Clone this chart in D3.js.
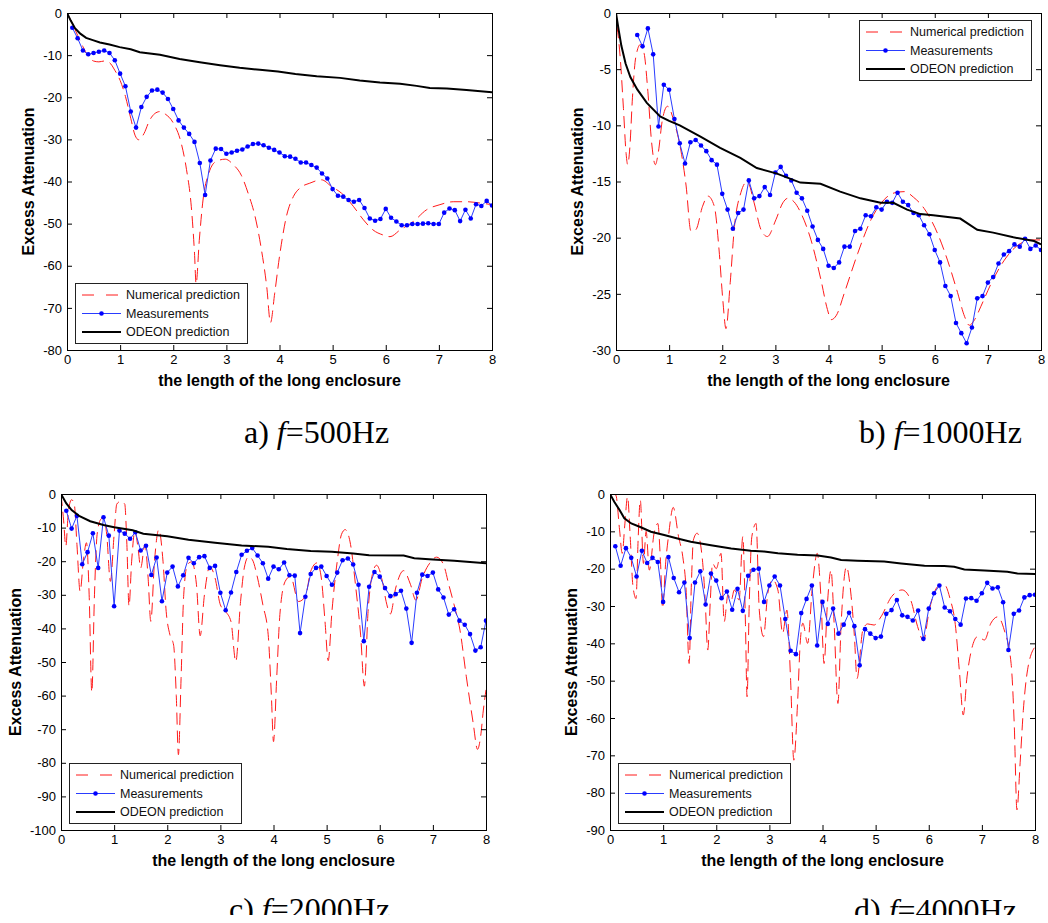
<!DOCTYPE html>
<html>
<head>
<meta charset="utf-8">
<script src="https://cdn.jsdelivr.net/npm/d3@7"></script>
<style>
body { margin: 0; background: #fff; }
svg { display: block; }
text { font-family: "Liberation Sans", Arial, sans-serif; }
</style>
</head>
<body>
<div id="chart"></div>
<script>
//positions along the enclosure where the measurements were taken
var measX = [0.1,0.2,0.3,0.4,0.5,0.6,0.7,0.8,0.9,1.0,
    1.1,1.2,1.3,1.4,1.5,1.6,1.7,1.8,1.9,2.0,
    2.1,2.2,2.3,2.4,2.5,2.6,2.7,2.8,2.9,3.0,
    3.1,3.2,3.3,3.4,3.5,3.6,3.7,3.8,3.9,4.0,
    4.1,4.2,4.3,4.4,4.5,4.6,4.7,4.8,4.9,5.0,
    5.1,5.2,5.3,5.4,5.5,5.6,5.7,5.8,5.9,6.0,
    6.1,6.2,6.3,6.4,6.5,6.6,6.7,6.8,6.9,7.0,
    7.1,7.2,7.3,7.4,7.5,7.6,7.7,7.8,7.9,8.0];

var measA = [-3.5,-6.0,-8.9,-9.8,-9.5,-9.2,-8.9,-9.5,-11.2,-14.4,
    -17.4,-23.4,-27.2,-22.3,-19.9,-18.4,-18.2,-18.9,-20.4,-22.8,
    -25.5,-27.2,-28.7,-30.6,-35.6,-43.2,-35.0,-32.2,-32.3,-33.4,
    -33.1,-32.7,-32.4,-31.7,-31.1,-31.0,-31.4,-32.0,-32.5,-33.1,
    -34.0,-34.1,-34.6,-35.5,-35.5,-36.1,-36.7,-38.1,-39.3,-41.8,
    -43.4,-43.6,-44.4,-44.8,-44.4,-46.3,-48.8,-49.3,-48.9,-46.5,
    -48.6,-49.5,-50.4,-50.4,-50.1,-50.1,-50.0,-49.9,-50.1,-50.1,
    -47.4,-46.4,-46.8,-49.4,-46.7,-48.8,-45.4,-45.8,-44.6,-45.7];

var measB = [null,null,null,-1.96,-2.97,-1.37,-3.68,-10.1,-6.39,-6.83,
    -9.44,-11.6,-13.4,-11.5,-11.3,-11.8,-12.3,-13.1,-13.5,-16.1,
    -17.5,-19.2,-17.8,-17.5,-14.9,-16.5,-16.3,-15.5,-16.2,-14.2,
    -13.7,-14.5,-14.9,-16.0,-16.5,-17.6,-19.0,-20.2,-21.0,-22.5,
    -22.7,-22.2,-20.8,-20.8,-19.4,-19.2,-18.0,-18.1,-17.3,-17.5,
    -16.8,-16.9,-16.0,-16.8,-17.1,-17.8,-18.0,-18.9,-19.7,-21.1,
    -22.2,-24.3,-25.2,-27.6,-28.5,-29.4,-28.0,-25.4,-25.2,-24.0,
    -23.5,-22.3,-21.5,-21.2,-20.6,-20.8,-20.1,-21.0,-20.7,-21.1];

var measC = [-5.0,-10.3,-6.5,-20.9,-17.3,-11.7,-22.0,-6.9,-12.4,-33.4,
    -10.9,-11.8,-13.3,-11.4,-16.8,-15.4,-24.1,-18.9,-31.9,-23.4,
    -21.6,-27.5,-24.2,-19.0,-20.6,-18.8,-18.5,-22.0,-21.4,-29.4,
    -34.6,-29.3,-23.2,-18.1,-16.9,-16.1,-18.3,-20.6,-25.2,-21.6,
    -22.4,-20.4,-24.2,-24.3,-41.4,-30.6,-23.8,-22.0,-21.6,-24.4,
    -27.0,-23.4,-19.7,-19.2,-21.0,-27.0,-43.8,-27.6,-23.2,-24.6,
    -28.0,-30.4,-29.8,-28.8,-34.1,-44.3,-29.4,-24.0,-24.4,-23.4,
    -28.4,-30.8,-35.9,-34.3,-37.7,-38.9,-41.7,-46.6,-45.6,-37.7];

var measD = [-14.0,-19.2,-14.5,-17.1,-22.1,-15.2,-18.5,-17.1,-18.2,-28.9,
    -16.9,-22.5,-26.3,-23.7,-38.6,-23.7,-20.7,-29.6,-21.3,-23.2,
    -27.9,-26.1,-31.0,-25.4,-31.3,-21.9,-20.3,-20.0,-28.9,-24.5,
    -22.1,-24.5,-33.5,-42.0,-42.9,-31.9,-28.1,-24.5,-40.6,-28.9,
    -34.8,-30.7,-37.4,-35.0,-31.8,-35.4,-45.9,-36.2,-37.4,-38.6,
    -38.2,-32.1,-31.1,-28.4,-32.5,-32.9,-33.9,-31.2,-38.8,-30.7,
    -26.6,-24.5,-30.4,-31.4,-33.5,-35.0,-28.0,-27.9,-28.6,-26.6,
    -23.8,-25.3,-25.0,-29.0,-41.8,-32.1,-31.2,-27.7,-27.1,-27.0];

//numerical prediction, [position, attenuation]
var numA = [[0,0],[0.1,-2.5],[0.2,-5.3],[0.3,-8.0],[0.4,-10.3],[0.5,-11.4],[0.6,-11.6],[0.7,-11.4],[0.8,-11.8],[0.9,-13.6],
    [1.0,-16.0],[1.1,-19.8],[1.2,-25.0],[1.28,-29.0],[1.35,-30.1],[1.45,-28.6],[1.55,-25.6],[1.65,-23.9],[1.75,-23.4],[1.85,-24.0],
    [2.0,-26.1],[2.15,-30.9],[2.25,-37.2],[2.34,-46.0],[2.4,-57.0],[2.43,-64.3],[2.49,-54.0],[2.56,-44.4],[2.67,-38.0],[2.81,-35.2],
    [2.98,-34.7],[3.13,-36.0],[3.28,-38.5],[3.41,-42.8],[3.54,-48.3],[3.66,-56.2],[3.76,-65.0],[3.83,-73.5],[3.91,-66.5],[4.0,-57.8],
    [4.13,-48.3],[4.26,-43.6],[4.38,-41.6],[4.57,-40.4],[4.79,-39.6],[4.98,-41.2],[5.17,-42.8],[5.39,-45.9],[5.58,-49.1],[5.76,-51.5],
    [5.95,-52.7],[6.08,-53.1],[6.27,-51.5],[6.52,-49.5],[6.77,-46.7],[7.02,-45.5],[7.27,-44.8],[7.52,-44.8],[7.77,-45.1],[8.0,-45.5]];

var numB = [[0.02,-1.2],[0.08,-4.0],[0.14,-8.5],[0.19,-12.5],[0.22,-13.5],[0.26,-12.0],[0.31,-7.5],[0.37,-4.0],[0.46,-2.8],[0.53,-3.6],
    [0.6,-7.0],[0.67,-11.5],[0.74,-13.5],[0.8,-12.3],[0.87,-9.6],[0.97,-8.3],[1.1,-9.8],[1.22,-12.2],[1.32,-15.4],[1.41,-19.4],
    [1.5,-19.3],[1.63,-17.2],[1.73,-16.3],[1.85,-17.2],[1.94,-21.1],[2.01,-25.5],[2.07,-28.1],[2.15,-24.0],[2.23,-19.0],[2.35,-16.0],
    [2.47,-15.0],[2.6,-16.9],[2.73,-19.3],[2.85,-19.9],[3.01,-18.4],[3.14,-16.9],[3.23,-16.5],[3.35,-16.8],[3.48,-17.8],[3.67,-20.2],
    [3.86,-23.8],[3.98,-26.4],[4.05,-27.3],[4.15,-26.9],[4.3,-24.9],[4.55,-21.4],[4.8,-18.4],[5.05,-16.6],[5.25,-16.0],[5.43,-15.9],
    [5.6,-16.4],[5.8,-17.4],[6.05,-19.6],[6.24,-22.0],[6.43,-24.9],[6.56,-27.0],[6.65,-27.8],[6.75,-27.3],[6.87,-26.1],[7.06,-24.1],
    [7.31,-22.0],[7.62,-20.5],[7.85,-20.2],[8.0,-20.2]];

var numC = [[0,0],[0.05,-8],[0.09,-15.6],[0.14,-5],[0.2,-1.7],[0.25,-3],[0.3,-15],[0.36,-29],[0.42,-20],[0.48,-14.5],
    [0.53,-30],[0.58,-59],[0.63,-30],[0.68,-12],[0.75,-7.5],[0.8,-7],[0.86,-12],[0.93,-26],[1.0,-12],[1.05,-3],
    [1.12,-2.2],[1.2,-3],[1.24,-15],[1.28,-33.4],[1.33,-20],[1.39,-11.1],[1.45,-16],[1.5,-22],[1.58,-15],[1.64,-25],
    [1.69,-37.9],[1.76,-20],[1.84,-10.6],[1.92,-20],[1.98,-35],[2.05,-41.9],[2.12,-45],[2.17,-60],[2.21,-77.6],[2.26,-55],
    [2.31,-30],[2.38,-21],[2.46,-20.2],[2.55,-27],[2.62,-42.2],[2.7,-30],[2.8,-21.6],[2.9,-25],[3.0,-33],[3.1,-35],
    [3.2,-38],[3.29,-49.9],[3.38,-32],[3.45,-22],[3.53,-18.7],[3.6,-19.5],[3.7,-25],[3.8,-33],[3.9,-41.9],[3.96,-60],
    [4.0,-73.7],[4.06,-54.8],[4.12,-35.9],[4.22,-26],[4.32,-24.5],[4.47,-32],[4.6,-30.5],[4.7,-23],[4.82,-20.5],[4.9,-25],
    [4.97,-38],[5.03,-49.6],[5.1,-35],[5.2,-20],[5.28,-12],[5.35,-10.6],[5.45,-15],[5.55,-28],[5.64,-42],[5.71,-57.2],
    [5.78,-35],[5.86,-24],[5.94,-21.2],[6.05,-26],[6.12,-32],[6.2,-35.7],[6.3,-28],[6.45,-22.8],[6.58,-27],[6.68,-31.6],
    [6.8,-25],[6.94,-20.6],[7.07,-18.8],[7.2,-21],[7.3,-27],[7.4,-33],[7.51,-40.5],[7.63,-54.4],[7.76,-68.3],[7.84,-76],
    [7.9,-72],[7.95,-64.3],[8.0,-58.3]];

var numD = [[0,0],[0.05,0],[0.11,-0.3],[0.18,-9.6],[0.23,-15.9],[0.28,-8],[0.33,-0.7],[0.38,-11.4],[0.43,-24.4],[0.49,-28],
    [0.53,-12],[0.57,-1.6],[0.63,-18.6],[0.68,-10],[0.74,-20.4],[0.83,-10.5],[0.9,-7.9],[0.95,-18],[0.99,-30.6],[1.05,-18],
    [1.1,-11.4],[1.19,-3.6],[1.29,-11.4],[1.37,-16.8],[1.43,-25],[1.49,-45.4],[1.53,-25],[1.57,-12.3],[1.64,-10.5],[1.74,-17.7],
    [1.79,-28],[1.84,-41.8],[1.89,-28],[1.93,-18.6],[2.0,-20],[2.09,-15.9],[2.15,-34.2],[2.22,-27],[2.28,-28.6],[2.34,-25.7],
    [2.43,-28.4],[2.5,-11.4],[2.55,-35],[2.58,-54.3],[2.62,-30],[2.67,-11.4],[2.75,-7.9],[2.81,-31.1],[2.89,-38.2],[2.97,-26.6],
    [3.06,-23.0],[3.16,-25.7],[3.25,-37.3],[3.33,-31.1],[3.4,-50],[3.46,-71.3],[3.53,-56.1],[3.58,-40],[3.63,-34.6],[3.72,-40],
    [3.81,-24.8],[3.9,-15.9],[3.97,-27.5],[4.03,-45.4],[4.09,-30],[4.16,-20.4],[4.22,-35],[4.29,-56.1],[4.35,-35],[4.45,-19.5],
    [4.54,-27.5],[4.6,-38],[4.65,-49.4],[4.76,-36.4],[4.85,-34.8],[4.97,-35.1],[5.1,-32.9],[5.3,-27.5],[5.5,-25.7],[5.66,-28.4],
    [5.79,-35.5],[5.9,-39.3],[6.01,-31.1],[6.17,-24.8],[6.29,-24.2],[6.4,-28],[6.5,-35],[6.58,-48],[6.65,-59.2],[6.72,-49],
    [6.8,-42],[6.92,-38.2],[7.05,-39.1],[7.17,-34.6],[7.3,-32.9],[7.42,-36.4],[7.55,-45.4],[7.61,-62],[7.66,-84.6],[7.72,-72],
    [7.78,-58],[7.86,-47.1],[8.0,-40.9]];

//ODEON prediction, [position, attenuation]
var odeonA = [[0,0],[0.07,-1.8],[0.15,-3.6],[0.25,-4.9],[0.36,-5.9],[0.5,-6.5],[0.62,-7.0],[0.8,-7.5],[0.99,-8.1],[1.2,-8.6],
    [1.37,-9.3],[1.75,-9.9],[2.12,-10.9],[2.5,-11.7],[2.88,-12.4],[3.25,-13.0],[3.63,-13.5],[3.97,-13.9],[4.3,-14.5],[4.7,-15.0],
    [5.14,-15.4],[5.51,-16.0],[5.89,-16.5],[6.27,-16.8],[6.58,-17.3],[6.83,-17.8],[7.15,-17.9],[7.52,-18.3],[8.0,-18.8]];

var odeonB = [[0,0],[0.05,-1.5],[0.1,-2.9],[0.18,-4.5],[0.27,-5.7],[0.4,-6.8],[0.58,-8.0],[0.83,-9.2],[1.0,-9.6],[1.2,-10.0],
    [1.59,-11.0],[1.96,-12.0],[2.34,-12.9],[2.65,-13.8],[3.03,-14.3],[3.47,-15.1],[3.85,-15.2],[4.22,-15.9],[4.6,-16.5],[4.98,-16.9],
    [5.22,-16.9],[5.48,-17.5],[5.73,-17.9],[5.97,-18.0],[6.48,-18.3],[6.8,-19.3],[7.1,-19.55],[7.48,-19.97],[7.87,-20.3],[8.0,-20.6]];

var odeonC = [[0,0],[0.1,-2.8],[0.2,-4.8],[0.35,-6.6],[0.55,-8.1],[0.8,-9.2],[1.0,-9.9],[1.35,-10.8],[1.55,-11.8],[2.0,-12.6],
    [2.4,-13.6],[2.9,-14.5],[3.4,-15.3],[3.9,-15.7],[4.25,-16.4],[4.7,-17.0],[5.1,-17.2],[5.5,-17.7],[5.8,-18.2],[6.45,-18.3],
    [6.65,-19.1],[7.0,-19.5],[7.4,-19.9],[8.0,-20.6]];

var odeonD = [[0,0],[0.08,-2.1],[0.18,-4.3],[0.27,-6.5],[0.4,-7.9],[0.58,-8.9],[0.77,-10.1],[1.02,-11.0],[1.27,-11.9],[1.52,-12.8],
    [1.9,-13.7],[2.28,-14.6],[2.65,-15.2],[2.9,-15.4],[3.16,-15.9],[3.53,-16.3],[3.91,-16.5],[4.16,-17.0],[4.35,-17.7],[4.66,-17.9],
    [5.16,-18.1],[5.48,-18.6],[5.92,-19.2],[6.29,-19.3],[6.48,-19.5],[6.67,-20.2],[7.05,-20.5],[7.48,-20.8],[7.67,-21.3],[8.0,-21.4]];

//tick labels
var xTicks = [0,1,2,3,4,5,6,7,8];
var yTicksA = [0,-10,-20,-30,-40,-50,-60,-70,-80];
var yTicksB = [0,-5,-10,-15,-20,-25,-30];
var yTicksC = [0,-10,-20,-30,-40,-50,-60,-70,-80,-90,-100];
var yTicksD = [0,-10,-20,-30,-40,-50,-60,-70,-80,-90];

var legendLabels = ["Numerical prediction", "Measurements", "ODEON prediction"];
var captionLetters = ["a)", "b)", "c)", "d)"];
var captionFreqs = ["=500Hz", "=1000Hz", "=2000Hz", "=4000Hz"];
var xLabel = "the length of the long enclosure";
var yLabel = "Excess Attenuation";

var ExcessChart = {
    init: function(){
        var svg = d3.select("#chart").append("svg")
            .attr("width", 1048)
            .attr("height", 923)
            .attr("xmlns", "http://www.w3.org/2000/svg");
        svg.append("rect").attr("width", 1048).attr("height", 923).attr("fill", "#fff");
        this.defs = svg.append("defs");
        this.defs.append("clipPath").attr("id", "pageClip")
            .append("rect").attr("x", 0).attr("y", 0).attr("width", 1048).attr("height", 915);

        var panels = [
            {left: 67, top: 13, right: 492, bottom: 350, yTicks: yTicksA, meas: measA, num: numA, odeon: odeonA, legendTop: false, yLabelGap: 39, capX: 244, capY: 443},
            {left: 616, top: 13, right: 1041, bottom: 350, yTicks: yTicksB, meas: measB, num: numB, odeon: odeonB, legendTop: true, yLabelGap: 39, capX: 859, capY: 443},
            {left: 61, top: 494, right: 486, bottom: 830, yTicks: yTicksC, meas: measC, num: numC, odeon: odeonC, legendTop: false, yLabelGap: 46, capX: 229, capY: 920},
            {left: 610, top: 494, right: 1035, bottom: 830, yTicks: yTicksD, meas: measD, num: numD, odeon: odeonD, legendTop: false, yLabelGap: 39, capX: 854, capY: 921}
        ];
        var self = this;
        panels.forEach(function(p, i){
            self.drawPanel(svg, p, i);
        });
    },

    drawPanel: function(svg, p, i){
        var x = d3.scaleLinear().domain([0, 8]).range([p.left, p.right]);
        var y = d3.scaleLinear().domain([d3.min(p.yTicks), 0]).range([p.bottom, p.top]);
        var g = svg.append("g");

        this.defs.append("clipPath").attr("id", "clip" + i)
            .append("rect")
            .attr("x", p.left).attr("y", p.top)
            .attr("width", p.right - p.left).attr("height", p.bottom - p.top);

        //Drawing the three series, clipped to the axes box
        var data = g.append("g").attr("clip-path", "url(#clip" + i + ")");
        var curve = d3.line()
            .x(function(d){ return x(d[0]); })
            .y(function(d){ return y(d[1]); })
            .curve(d3.curveMonotoneX);

        data.append("path")
            .attr("d", curve(p.num))
            .attr("fill", "none")
            .attr("stroke", "#ff1a1a")
            .attr("stroke-width", 1)
            .attr("stroke-dasharray", "12,6");

        var meas = measX.map(function(v, k){ return [v, p.meas[k]]; })
            .filter(function(d){ return d[1] !== null; });
        data.append("path")
            .attr("d", d3.line().x(function(d){ return x(d[0]); }).y(function(d){ return y(d[1]); })(meas))
            .attr("fill", "none")
            .attr("stroke", "#2a3cff")
            .attr("stroke-width", 1);
        data.selectAll("circle.pt").data(meas).enter()
            .append("circle")
            .attr("class", "pt")
            .attr("cx", function(d){ return x(d[0]); })
            .attr("cy", function(d){ return y(d[1]); })
            .attr("r", 2.3)
            .attr("fill", "#0000ff");

        data.append("path")
            .attr("d", d3.line().x(function(d){ return x(d[0]); }).y(function(d){ return y(d[1]); })(p.odeon))
            .attr("fill", "none")
            .attr("stroke", "#000")
            .attr("stroke-width", 2);

        //Axes box with inward ticks on all sides
        var label = function(d){ return String(d); };
        var styleAxis = function(a){
            a.select(".domain").remove();
            a.attr("font-size", 13).attr("font-family", "'Liberation Sans', Arial, sans-serif");
            a.selectAll("line").attr("stroke", "#000");
            a.selectAll("text").attr("fill", "#000");
        };
        g.append("g").attr("transform", "translate(" + p.left + ",0)")
            .call(d3.axisLeft(y).tickValues(p.yTicks).tickSizeInner(-5).tickSizeOuter(0).tickPadding(5).tickFormat(label))
            .call(styleAxis);
        g.append("g").attr("transform", "translate(" + p.right + ",0)")
            .call(d3.axisRight(y).tickValues(p.yTicks).tickSizeInner(-5).tickSizeOuter(0).tickFormat(""))
            .call(styleAxis);
        g.append("g").attr("transform", "translate(0," + p.bottom + ")")
            .call(d3.axisBottom(x).tickValues(xTicks).tickSizeInner(-5).tickSizeOuter(0).tickPadding(5).tickFormat(label))
            .call(styleAxis);
        g.append("g").attr("transform", "translate(0," + p.top + ")")
            .call(d3.axisTop(x).tickValues(xTicks).tickSizeInner(-5).tickSizeOuter(0).tickFormat(""))
            .call(styleAxis);

        g.append("rect")
            .attr("x", p.left + 0.5).attr("y", p.top + 0.5)
            .attr("width", p.right - p.left).attr("height", p.bottom - p.top)
            .attr("fill", "none")
            .attr("stroke", "#000")
            .attr("stroke-width", 1);

        //Axis titles
        g.append("text")
            .text(xLabel)
            .attr("x", (p.left + p.right) / 2)
            .attr("y", p.bottom + 30)
            .attr("dy", "0.35em")
            .attr("text-anchor", "middle")
            .attr("font-size", 16)
            .attr("font-weight", "bold");
        var yc = (p.top + p.bottom) / 2;
        g.append("text")
            .text(yLabel)
            .attr("x", p.left - p.yLabelGap)
            .attr("y", yc)
            .attr("dy", "0.35em")
            .attr("text-anchor", "middle")
            .attr("font-size", 16)
            .attr("font-weight", "bold")
            .attr("transform", "rotate(-90, " + (p.left - p.yLabelGap) + "," + yc + ")");

        this.drawLegend(g, p);
        this.drawCaption(svg, p, i);
    },

    drawLegend: function(g, p){
        var w = 172, h = 60;
        var lx = p.legendTop ? p.right - 10 - w : p.left + 8;
        var ly = p.legendTop ? p.top + 7 : p.bottom - 7 - h;
        var leg = g.append("g").attr("transform", "translate(" + lx + "," + ly + ")");
        leg.append("rect")
            .attr("x", 0.5).attr("y", 0.5)
            .attr("width", w).attr("height", h)
            .attr("fill", "#fff")
            .attr("stroke", "#222")
            .attr("stroke-width", 1);

        var rows = [12, 30.5, 49];
        var styles = [
            {stroke: "#ff1a1a", width: 1, dash: "12,12"},
            {stroke: "#2a3cff", width: 1, dash: null},
            {stroke: "#000", width: 2, dash: null}
        ];
        legendLabels.forEach(function(name, k){
            leg.append("line")
                .attr("x1", 7).attr("x2", 46)
                .attr("y1", rows[k]).attr("y2", rows[k])
                .attr("stroke", styles[k].stroke)
                .attr("stroke-width", styles[k].width)
                .attr("stroke-dasharray", styles[k].dash);
            if (k == 1){
                leg.append("circle").attr("cx", 26.5).attr("cy", rows[k]).attr("r", 2.3).attr("fill", "#0000ff");
            }
            leg.append("text")
                .text(name)
                .attr("x", 51)
                .attr("y", rows[k])
                .attr("dy", "0.35em")
                .attr("font-size", 12.5)
                .attr("fill", "#111");
        });
    },

    drawCaption: function(svg, p, i){
        var t = svg.append("text")
            .attr("x", p.capX)
            .attr("y", p.capY)
            .attr("clip-path", "url(#pageClip)")
            .attr("font-size", 32)
            .attr("fill", "#000")
            .style("font-family", "'Liberation Serif', 'Times New Roman', serif");
        t.append("tspan").text(captionLetters[i] + " ");
        t.append("tspan").text("f").attr("font-style", "italic");
        t.append("tspan").text(captionFreqs[i]);
    }
};

ExcessChart.init();
</script>
</body>
</html>
